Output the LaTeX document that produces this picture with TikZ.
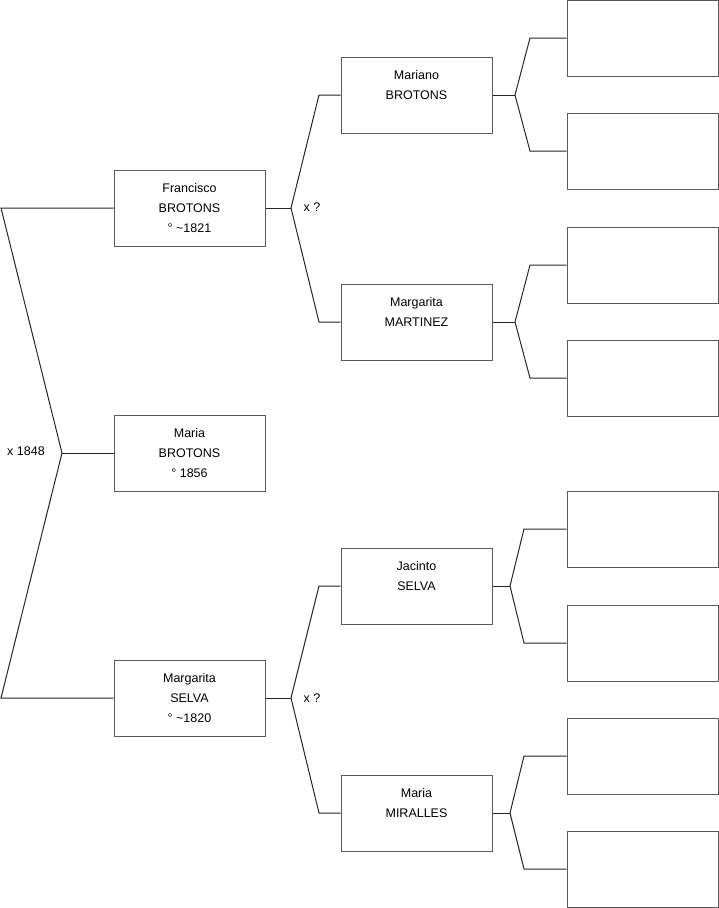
\documentclass[tikz,border=0pt]{standalone}
\usepackage{fontspec}
\setmainfont{Liberation Sans}
\begin{document}
\begin{tikzpicture}[x=1pt,y=-1pt,
  person/.style={draw=black!65,line width=1pt,fill=white,minimum width=151pt,minimum height=76pt,inner sep=0pt,align=center,font=\fontsize{12.5}{20}\selectfont},
  link/.style={draw=black!85,line width=1pt},
  lbl/.style={font=\fontsize{12.5}{15}\selectfont,inner sep=0pt}]
\useasboundingbox (0,0) rectangle (719,908);
% generation 1
\node[person] (F) at (189.5,208) {Francisco\\BROTONS\\° \textasciitilde1821};
\node[person] (C) at (189.5,453) {Maria\\BROTONS\\° 1856};
\node[person] (S) at (189.5,698) {Margarita\\SELVA\\° \textasciitilde1820};
% generation 2
\node[person] (FF) at (416.5,95) {Mariano\\BROTONS\\\mbox{}};
\node[person] (FM) at (416.5,322) {Margarita\\MARTINEZ\\\mbox{}};
\node[person] (SF) at (416.5,586) {Jacinto\\SELVA\\\mbox{}};
\node[person] (SM) at (416.5,813) {Maria\\MIRALLES\\\mbox{}};
% generation 3
\node[person] (FFF) at (642.5,38) {};
\node[person] (FFM) at (642.5,151) {};
\node[person] (FMF) at (642.5,265) {};
\node[person] (FMM) at (642.5,378) {};
\node[person] (SFF) at (642.5,529) {};
\node[person] (SFM) at (642.5,643) {};
\node[person] (SMF) at (642.5,756) {};
\node[person] (SMM) at (642.5,869) {};
% coordinates
\coordinate (a0) at (1,208);
\coordinate (k0) at (62,453);
\coordinate (b0) at (1,698);
\coordinate (kF) at (291,208);
\coordinate (aF) at (319,95);
\coordinate (bF) at (319,322);
\coordinate (kS) at (291,698);
\coordinate (aS) at (319,586);
\coordinate (bS) at (319,813);
\coordinate (kFF) at (515,95);
\coordinate (aFF) at (530,38);
\coordinate (bFF) at (530,151);
\coordinate (kFM) at (515,322);
\coordinate (aFM) at (530,265);
\coordinate (bFM) at (530,378);
\coordinate (kSF) at (510,586);
\coordinate (aSF) at (524,529);
\coordinate (bSF) at (524,643);
\coordinate (kSM) at (510,813);
\coordinate (aSM) at (524,756);
\coordinate (bSM) at (524,869);
% connectors
\draw[link] (F.west) -- (a0) -- (k0) -- (b0) -- (S.west);
\draw[link] (k0) -- (C.west);
\draw[link] (FF.west) -- (aF) -- (kF) -- (bF) -- (FM.west);
\draw[link] (kF) -- (F.east);
\draw[link] (SF.west) -- (aS) -- (kS) -- (bS) -- (SM.west);
\draw[link] (kS) -- (S.east);
\draw[link] (FFF.west) -- (aFF) -- (kFF) -- (bFF) -- (FFM.west);
\draw[link] (kFF) -- (FF.east);
\draw[link] (FMF.west) -- (aFM) -- (kFM) -- (bFM) -- (FMM.west);
\draw[link] (kFM) -- (FM.east);
\draw[link] (SFF.west) -- (aSF) -- (kSF) -- (bSF) -- (SFM.west);
\draw[link] (kSF) -- (SF.east);
\draw[link] (SMF.west) -- (aSM) -- (kSM) -- (bSM) -- (SMM.west);
\draw[link] (kSM) -- (SM.east);
% labels
\node[lbl] (m0) at (26,451) {x 1848};
\node[lbl] (mF) at (312,207) {x ?};
\node[lbl] (mS) at (312,698) {x ?};
\end{tikzpicture}
\end{document}
